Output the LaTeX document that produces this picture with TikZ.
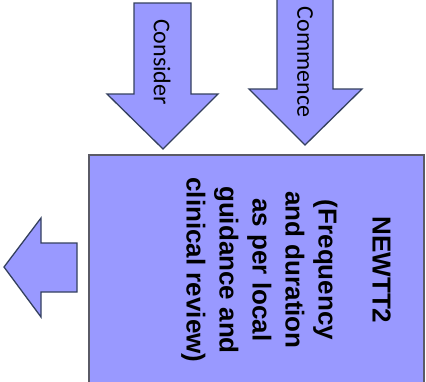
\documentclass[tikz,border=0pt]{standalone}
\usepackage{fontspec}
\setmainfont{Liberation Sans}
\newfontfamily\carlito{Carlito}
\definecolor{arrowfill}{HTML}{9999FF}
\definecolor{arrowline}{HTML}{34405E}
\definecolor{boxline}{HTML}{5A5A66}
\begin{document}
\begin{tikzpicture}[x=1pt,y=-1pt,
  blockarrow/.style={fill=arrowfill,draw=arrowline,line width=1.3pt,line join=miter},
  arrowlabel/.style={rotate=-90,font=\carlito\fontsize{24}{28}\selectfont,inner sep=0pt,text=black},
  mainbox/.style={fill=arrowfill,draw=boxline,line width=1.6pt},
  boxtext/.style={rotate=-90,align=center,inner sep=0pt,font=\bfseries\fontsize{26}{33}\selectfont,text=black}]
\useasboundingbox (0,0) rectangle (426,381);
% box
\path[mainbox] (89,155) rectangle (424,392);
% Consider arrow
\path[blockarrow] (134,3) -- (191,3) -- (191,94) -- (218,94) -- (163,149) -- (107,94) -- (134,94) -- cycle;
% Commence arrow
\path[blockarrow] (277,-2) -- (333,-2) -- (333,89) -- (362,89) -- (305,145) -- (249,89) -- (277,89) -- cycle;
% left arrow
\path[blockarrow] (77,243) -- (41,243) -- (41,218) -- (4,267) -- (41,317) -- (41,292) -- (77,292) -- cycle;
\node[arrowlabel] (consider) at (162,62) {Consider};
\node[arrowlabel] (commence) at (305,62) {Commence};
\node[boxtext] (newtt) at (286,270) {NEWTT2\\[21pt](Frequency\\and duration\\as per local\\guidance and\\clinical review)};
\end{tikzpicture}
\end{document}
